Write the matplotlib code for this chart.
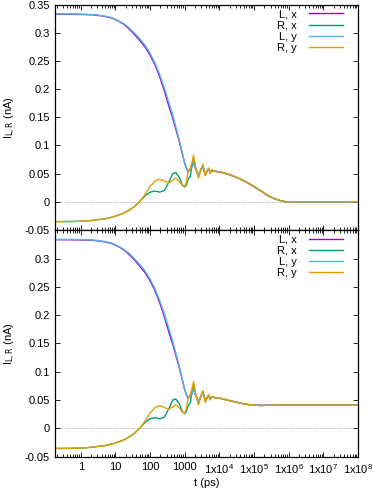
import matplotlib
matplotlib.use('Agg')
import matplotlib.pyplot as plt
from matplotlib.ticker import LogLocator, FixedLocator, NullFormatter

plt.rcParams['font.family'] = ['Liberation Sans', 'DejaVu Sans']
plt.rcParams['mathtext.default'] = 'regular'
plt.rcParams['axes.unicode_minus'] = False

# ── data ─────────────────────────────────────────────────────────────────────
t_ps = [0.18, 0.5, 1, 2, 3, 5, 8, 12, 18, 25, 35, 50, 70, 100, 140, 190, 260,
        350, 450, 550, 700, 850, 1000, 1120, 1250, 1450, 1650, 1800, 2100,
        2500, 2900, 3350, 3650, 3925, 4400, 4885, 5200, 5470, 6000, 6500,
        8000, 12000, 20000, 35000, 60000, 1e5, 1.6e5, 2.5e5, 4e5, 6e5, 8e5,
        1.2e6, 1e7, 1e8]

# shared part up to t = 8000 ps
L_y_early = [0.334, 0.3338, 0.3335, 0.333, 0.332, 0.330, 0.327, 0.322, 0.316,
             0.309, 0.300, 0.290, 0.279, 0.264, 0.246, 0.226, 0.202, 0.176,
             0.154, 0.134, 0.109, 0.087, 0.069, 0.060, 0.053, 0.057, 0.063,
             0.068, 0.058, 0.047, 0.056, 0.063, 0.056, 0.049, 0.054, 0.058,
             0.055, 0.051, 0.056, 0.055, 0.054]
L_x_early = [0.3335, 0.3333, 0.333, 0.3325, 0.3315, 0.3295, 0.3265, 0.3215,
             0.315, 0.307, 0.298, 0.287, 0.276, 0.261, 0.243, 0.222, 0.197,
             0.170, 0.149, 0.130, 0.107, 0.086, 0.068, 0.060, 0.053, 0.057,
             0.063, 0.068, 0.058, 0.047, 0.056, 0.063, 0.056, 0.049, 0.054,
             0.058, 0.055, 0.051, 0.056, 0.055, 0.054]
R_y_early = [-0.0355, -0.0352, -0.0348, -0.0335, -0.032, -0.0305, -0.0275,
             -0.024, -0.020, -0.015, -0.009, 0.000, 0.012, 0.027, 0.037,
             0.040, 0.037, 0.0335, 0.038, 0.042, 0.036, 0.029, 0.027, 0.035,
             0.054, 0.060, 0.072, 0.083, 0.060, 0.042, 0.055, 0.067, 0.055,
             0.046, 0.054, 0.060, 0.055, 0.051, 0.056, 0.055, 0.054]
R_x_early = [-0.0355, -0.0352, -0.0348, -0.0335, -0.032, -0.0305, -0.0275,
             -0.024, -0.020, -0.015, -0.009, 0.000, 0.010, 0.017, 0.019,
             0.017, 0.020, 0.035, 0.050, 0.052, 0.043, 0.030, 0.026, 0.030,
             0.040, 0.045, 0.068, 0.078, 0.058, 0.044, 0.057, 0.064, 0.055,
             0.047, 0.054, 0.059, 0.055, 0.051, 0.056, 0.055, 0.054]

# tails after t = 8000 ps
tail_top = [0.052, 0.048, 0.042, 0.035, 0.027, 0.019, 0.011, 0.005, 0.0015,
            0.0, 0.0, 0.0, 0.0]
tail_bottom = [0.0525, 0.049, 0.0455, 0.0425, 0.041, 0.0405, 0.041, 0.041,
               0.041, 0.041, 0.041, 0.041, 0.041]

series_names = ['L, x', 'R, x', 'L, y', 'R, y']
series_colors = ['#9400d3', '#009e73', '#56b4e9', '#e69f00']
early = [L_x_early, R_x_early, L_y_early, R_y_early]

y_ticks = [-0.05, 0, 0.05, 0.1, 0.15, 0.2, 0.25, 0.3, 0.35]
x_ticks = [1, 10, 100, 1000, 1e4, 1e5, 1e6, 1e7, 1e8]
x_labels = ['1', '10', '100', '1000', r'1x10$^{4}$', r'1x10$^{5}$',
            r'1x10$^{6}$', r'1x10$^{7}$', r'1x10$^{8}$']

FS = 8

# ── figure ───────────────────────────────────────────────────────────────────
fig = plt.figure(figsize=(3.74, 4.9), dpi=100)
ax_top = fig.add_axes([0.147, 0.531, 0.810, 0.459])
ax_bot = fig.add_axes([0.147, 0.068, 0.810, 0.462])

def gp_style(ax, show_xlabels, show_top_ylabel):
    ax.set_xscale('log')
    ax.set_xlim(0.18, 1e8)
    ax.set_ylim(-0.05, 0.35)
    ax.axhline(0, color='#9a9a9a', lw=0.5, ls=(0, (1.5, 1.5)), zorder=1)
    ax.xaxis.set_major_locator(FixedLocator(x_ticks))
    ax.xaxis.set_minor_locator(LogLocator(base=10, subs=range(2, 10), numticks=20))
    ax.xaxis.set_minor_formatter(NullFormatter())
    if show_xlabels:
        ax.set_xticklabels(x_labels)
    else:
        ax.set_xticklabels([])
    ax.yaxis.set_major_locator(FixedLocator(y_ticks))
    labs = ['%g' % v for v in y_ticks]
    if not show_top_ylabel:
        labs[-1] = ''
    ax.set_yticklabels(labs)
    ax.tick_params(which='both', direction='in', top=True, right=True,
                   labelsize=FS, colors='black', width=0.6)
    ax.tick_params(which='major', length=3.5, pad=3.5)
    ax.tick_params(which='minor', length=2)
    ax.tick_params(axis='x', which='major', pad=4)
    for s in ax.spines.values():
        s.set_linewidth(0.9)
    ax.set_ylabel(r'I$_{\mathrm{L,R}}$ (nA)', fontsize=FS, labelpad=5)

for ax, tail, show_x, show_top in [(ax_top, tail_top, False, True),
                                    (ax_bot, tail_bottom, True, False)]:
    gp_style(ax, show_x, show_top)
    for name, color, vals in zip(series_names, series_colors, early):
        ax.plot(t_ps, vals + tail, color=color, lw=1.0, label=name, zorder=2)
    ax.legend(loc='upper right', bbox_to_anchor=(0.975, 1.015),
              frameon=False, fontsize=FS, markerfirst=False,
              handlelength=3.0, handletextpad=1.1, labelspacing=0.1,
              borderpad=0.2)

ax_bot.set_xlabel('t (ps)', fontsize=FS)
ax_bot.xaxis.set_label_coords(0.5, -0.094)

fig.savefig('out.png', dpi=100)
